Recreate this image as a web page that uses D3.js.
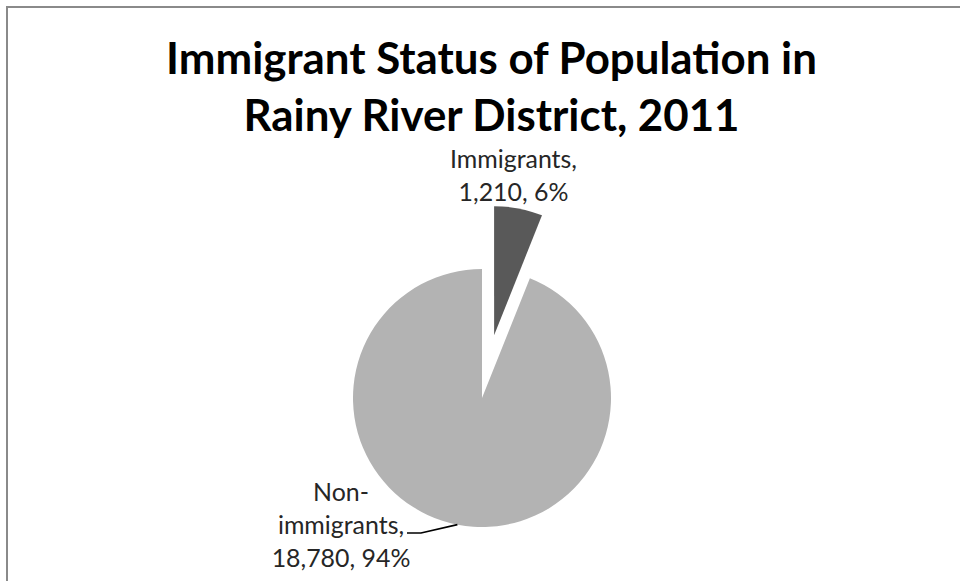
<!DOCTYPE html>
<html>
<head>
<meta charset="utf-8">
<script src="https://cdn.jsdelivr.net/npm/d3@7"></script>
<style>
  html, body { margin: 0; padding: 0; background: #fff; }
  svg { display: block; }
  text { font-family: Lato, "Open Sans", sans-serif; }
</style>
</head>
<body>
<div id="chart"></div>
<script>
// --- DATA ---
const titleLines = ["Immigrant Status of Population in", "Rainy River District, 2011"];
const categories = ["Immigrants", "Non-immigrants"];
const values = [1210, 18780];
const labelLines = [
    ["Immigrants,", "1,210, 6%"],
    ["Non-", "immigrants,", "18,780, 94%"]
];
const sliceColors = ["#595959", "#b3b3b3"];

// --- LAYOUT ---
const W = 960, H = 581;
const cx = 482, cy = 398, radius = 129;
const explode = [64, 0];

const svg = d3.select("#chart").append("svg")
    .attr("width", W).attr("height", H);

// chart area border (runs off the right and bottom edges)
svg.append("rect")
    .attr("x", 7).attr("y", 7)
    .attr("width", W + 20).attr("height", H + 20)
    .attr("fill", "#fff")
    .attr("stroke", "#8a8a8a").attr("stroke-width", 2);

// fit a text element to a target width by adjusting font size
function fitSize(sel, target, start) {
    sel.style("font-size", start + "px");
    const w = sel.node().getComputedTextLength();
    return start * target / w;
}

// --- TITLE ---
const title = svg.append("g").attr("font-weight", "bold").attr("fill", "#000");
const t1 = title.append("text").attr("text-anchor", "middle")
    .attr("x", 491.5).attr("y", 74).text(titleLines[0]);
const titleSize = fitSize(t1, 651, 40);
t1.style("font-size", titleSize + "px");
title.append("text").attr("text-anchor", "middle")
    .attr("x", 491.5).attr("y", 131)
    .style("font-size", titleSize + "px")
    .text(titleLines[1]);

// --- PIE ---
const pie = d3.pie().sort(null).value(d => d);
const arcs = pie(values);
const arc = d3.arc().innerRadius(0).outerRadius(radius);

const g = svg.append("g").attr("transform", `translate(${cx},${cy})`);
g.selectAll("path").data(arcs).join("path")
    .attr("d", arc)
    .attr("fill", (d, i) => sliceColors[i])
    .attr("transform", (d, i) => {
        const mid = (d.startAngle + d.endAngle) / 2;
        return `translate(${explode[i] * Math.sin(mid)},${-explode[i] * Math.cos(mid)})`;
    });

// --- DATA LABELS ---
const probe = svg.append("text").text(labelLines[0][0]);
const labelSize = fitSize(probe, 127, 24);
probe.remove();

const lineH = 33;
// label anchor positions relative to the pie centre
const labelPos = [
    { x: cx + 31.5, y: cy - 230 },
    { x: cx - 141, y: cy + 103 }
];
labelLines.forEach((lines, i) => {
    const t = svg.append("text")
        .attr("text-anchor", "middle")
        .attr("fill", "#262626")
        .style("font-size", labelSize + "px");
    lines.forEach((s, k) => {
        t.append("tspan").attr("x", labelPos[i].x)
            .attr("y", labelPos[i].y + k * lineH).text(s);
    });
});

// leader line for the non-immigrants label
const leadAngle = arcs[1].endAngle - 169 * Math.PI / 180;
const tip = [cx + radius * Math.sin(leadAngle), cy - radius * Math.cos(leadAngle)];
svg.append("path")
    .attr("d", d3.line()([[407, 533], [421, 533], tip]))
    .attr("fill", "none").attr("stroke", "#000").attr("stroke-width", 1.6);
</script>
</body>
</html>
